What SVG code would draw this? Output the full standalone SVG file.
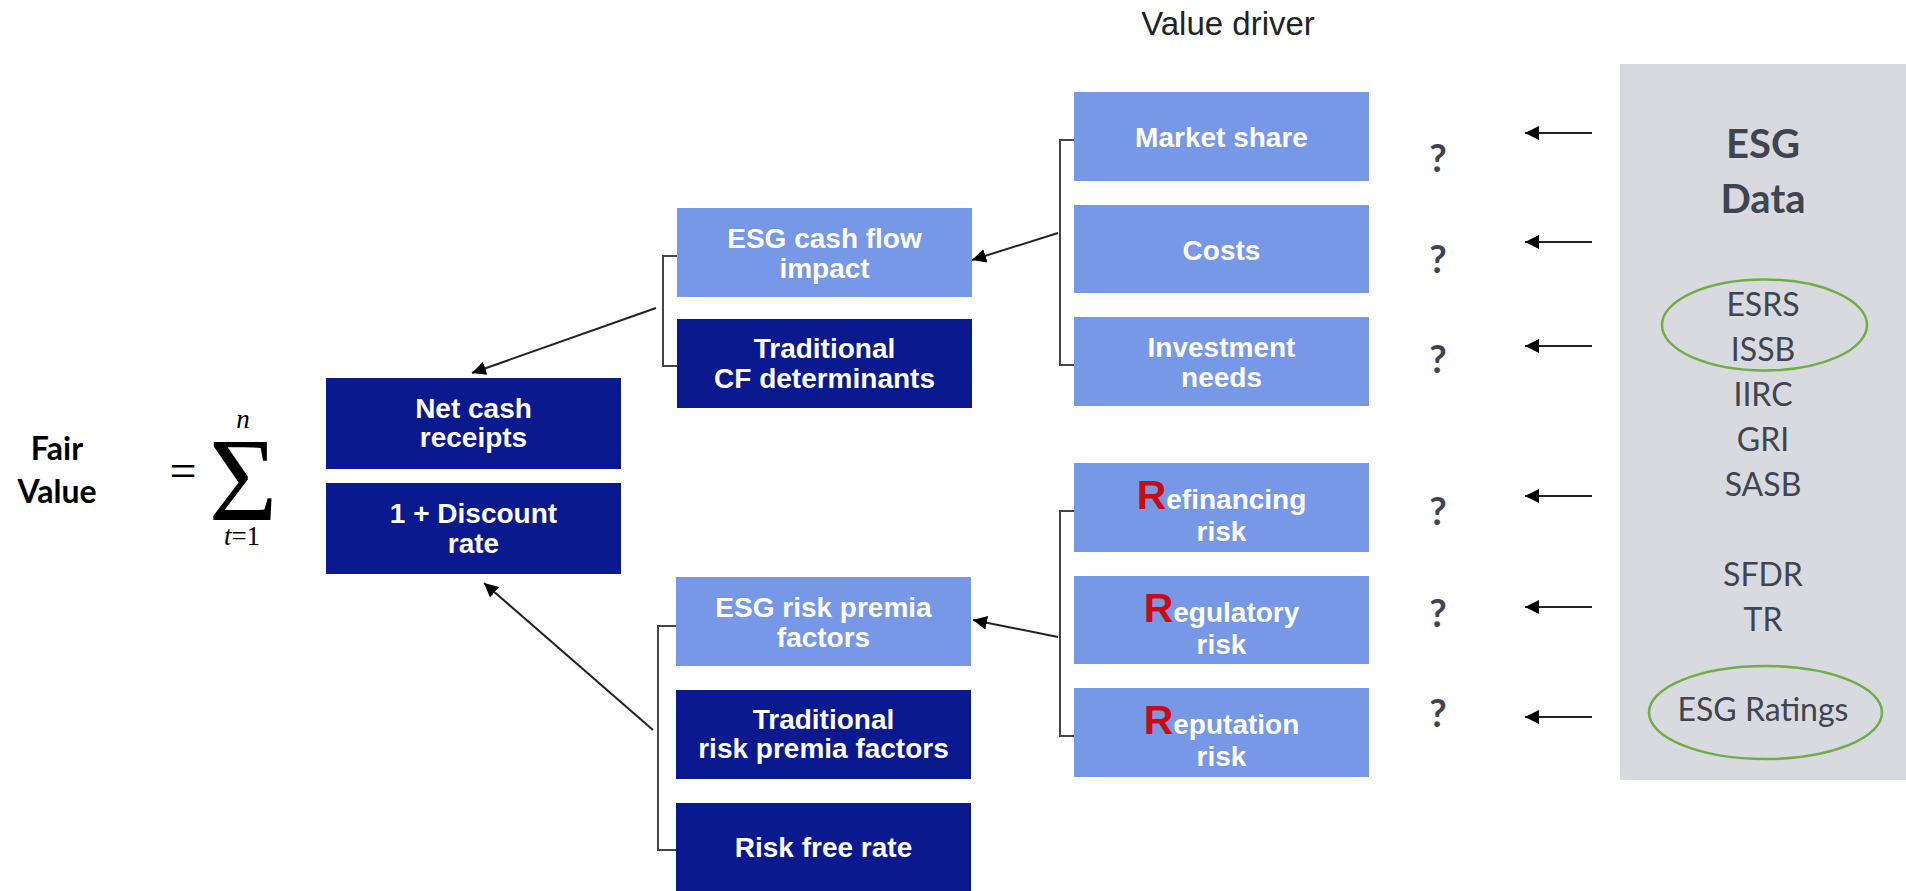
<svg xmlns="http://www.w3.org/2000/svg" width="1906" height="891" viewBox="0 0 1906 891">
<style>
.dk{fill:#0a198e}
.lt{fill:#7698e6}
.bt{font-family:"Liberation Sans",Arial,sans-serif;font-weight:bold;font-size:28px;fill:#ffffff;text-anchor:middle}
.rr{fill:#cc0a14;font-size:41px}
.q{font-family:Lato,"Open Sans",sans-serif;font-weight:bold;font-size:38px;fill:#404450;text-anchor:middle}
.pt{font-family:Lato,"Open Sans",sans-serif;font-size:32px;fill:#404450;text-anchor:middle}
.ph{font-family:Lato,"Open Sans",sans-serif;font-weight:bold;font-size:40px;fill:#404450;text-anchor:middle}
.br{fill:none;stroke:#444;stroke-width:2}
.ar{fill:none;stroke:#222;stroke-width:2;marker-end:url(#ah)}
.el{fill:none;stroke:#70ad47;stroke-width:2.5}
.mt{font-family:"Liberation Serif","Times New Roman",serif;fill:#000}
</style>
<defs>
<marker id="ah" markerUnits="userSpaceOnUse" markerWidth="16" markerHeight="16" refX="14" refY="7" orient="auto">
<path d="M0,0 L14,7 L0,14 z" fill="#000"/>
</marker>
</defs>
<rect width="1906" height="891" fill="#ffffff"/>

<text x="1228" y="35" font-family="Liberation Sans,Arial,sans-serif" font-size="33" fill="#222" text-anchor="middle">Value driver</text>

<g id="fair-value">
<text x="57" y="460" font-family="Lato,'Open Sans',sans-serif" font-weight="bold" font-size="32" fill="#000" text-anchor="middle">Fair</text>
<text x="57" y="503" font-family="Lato,'Open Sans',sans-serif" font-weight="bold" font-size="32" fill="#000" text-anchor="middle">Value</text>
</g>
<g id="formula">
<text class="mt" x="183" y="487" font-size="48" text-anchor="middle">=</text>
<text class="mt" x="243" y="520" font-size="118" text-anchor="middle">Σ</text>
<text class="mt" x="243" y="428" font-size="27" font-style="italic" text-anchor="middle">n</text>
<text class="mt" x="242" y="545" font-size="27" text-anchor="middle"><tspan font-style="italic">t</tspan>=1</text>
</g>

<g id="net-cash">
<rect class="dk" x="326" y="378" width="295" height="91"/>
<text class="bt" x="473.5" y="418">Net cash</text>
<text class="bt" x="473.5" y="447">receipts</text>
</g>
<g id="discount">
<rect class="dk" x="326" y="483" width="295" height="91"/>
<text class="bt" x="473.5" y="523">1 + Discount</text>
<text class="bt" x="473.5" y="553">rate</text>
</g>

<g id="esg-cash-flow">
<rect class="lt" x="677" y="208" width="295" height="89"/>
<text class="bt" x="824.5" y="248">ESG cash flow</text>
<text class="bt" x="824.5" y="278">impact</text>
</g>
<g id="trad-cf">
<rect class="dk" x="677" y="319" width="295" height="89"/>
<text class="bt" x="824.5" y="358">Traditional</text>
<text class="bt" x="824.5" y="388">CF determinants</text>
</g>
<g id="esg-risk">
<rect class="lt" x="676" y="577" width="295" height="89"/>
<text class="bt" x="823.5" y="617">ESG risk premia</text>
<text class="bt" x="823.5" y="647">factors</text>
</g>
<g id="trad-risk">
<rect class="dk" x="676" y="690" width="295" height="89"/>
<text class="bt" x="823.5" y="729">Traditional</text>
<text class="bt" x="823.5" y="758">risk premia factors</text>
</g>
<g id="risk-free">
<rect class="dk" x="676" y="803" width="295" height="90"/>
<text class="bt" x="823.5" y="857">Risk free rate</text>
</g>

<g id="market-share">
<rect class="lt" x="1074" y="92" width="295" height="89"/>
<text class="bt" x="1221.5" y="147">Market share</text>
</g>
<g id="costs">
<rect class="lt" x="1074" y="205" width="295" height="88"/>
<text class="bt" x="1221.5" y="260">Costs</text>
</g>
<g id="investment">
<rect class="lt" x="1074" y="317" width="295" height="89"/>
<text class="bt" x="1221.5" y="357">Investment</text>
<text class="bt" x="1221.5" y="387">needs</text>
</g>
<g id="refinancing">
<rect class="lt" x="1074" y="463" width="295" height="89"/>
<text class="bt" x="1221.5" y="509"><tspan class="rr">R</tspan>efinancing</text>
<text class="bt" x="1221.5" y="541">risk</text>
</g>
<g id="regulatory">
<rect class="lt" x="1074" y="576" width="295" height="88"/>
<text class="bt" x="1221.5" y="622"><tspan class="rr">R</tspan>egulatory</text>
<text class="bt" x="1221.5" y="654">risk</text>
</g>
<g id="reputation">
<rect class="lt" x="1074" y="688" width="295" height="89"/>
<text class="bt" x="1221.5" y="734"><tspan class="rr">R</tspan>eputation</text>
<text class="bt" x="1221.5" y="766">risk</text>
</g>

<g id="questions">
<text class="q" x="1438" y="172">?</text>
<text class="q" x="1438" y="273">?</text>
<text class="q" x="1438" y="373">?</text>
<text class="q" x="1438" y="525">?</text>
<text class="q" x="1438" y="627">?</text>
<text class="q" x="1438" y="727">?</text>
</g>

<g id="esg-data">
<rect x="1620" y="64" width="286" height="716" fill="#d9dadf"/>
<text class="ph" x="1763" y="158">ESG</text>
<text class="ph" x="1763" y="213">Data</text>
<text class="pt" x="1763" y="316">ESRS</text>
<text class="pt" x="1763" y="361">ISSB</text>
<text class="pt" x="1763" y="406">IIRC</text>
<text class="pt" x="1763" y="451">GRI</text>
<text class="pt" x="1763" y="496">SASB</text>
<text class="pt" x="1763" y="586">SFDR</text>
<text class="pt" x="1763" y="631">TR</text>
<text class="pt" x="1763" y="721">ESG Ratings</text>
<ellipse class="el" cx="1764.5" cy="325" rx="102.5" ry="45.5"/>
<ellipse class="el" cx="1765.5" cy="712.5" rx="116.5" ry="46.5"/>
</g>

<g id="connectors">
<path class="br" d="M1074,140 H1060 V365 H1074"/>
<path class="br" d="M1074,511 H1060 V736 H1074"/>
<path class="br" d="M677,256 H663 V366 H677"/>
<path class="br" d="M676,626 H658 V850 H676"/>
<line class="ar" x1="1058" y1="233" x2="972" y2="260"/>
<line class="ar" x1="1058" y1="637" x2="973" y2="620"/>
<line class="ar" x1="656" y1="308" x2="472" y2="373"/>
<line class="ar" x1="653" y1="730" x2="484" y2="583"/>
<line class="ar" x1="1592" y1="133" x2="1525" y2="133"/>
<line class="ar" x1="1592" y1="242" x2="1525" y2="242"/>
<line class="ar" x1="1592" y1="346" x2="1525" y2="346"/>
<line class="ar" x1="1592" y1="496" x2="1525" y2="496"/>
<line class="ar" x1="1592" y1="607" x2="1525" y2="607"/>
<line class="ar" x1="1592" y1="717" x2="1525" y2="717"/>
</g>
</svg>
